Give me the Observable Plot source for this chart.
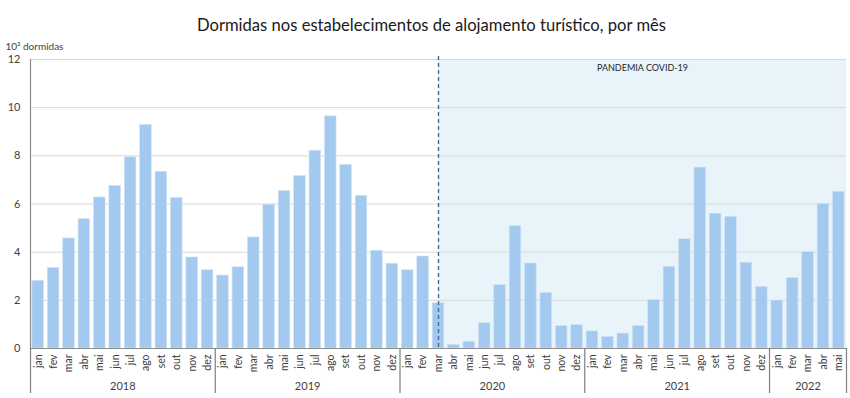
<!DOCTYPE html>
<html><head><meta charset="utf-8">
<script src="https://cdn.jsdelivr.net/npm/d3@7"></script>
<script src="https://cdn.jsdelivr.net/npm/@observablehq/plot@0.6"></script>
<style>body{margin:0;background:#fff;} svg{display:block;}</style>
</head><body><div id="chart"></div>
<script>
const title = "Dormidas nos estabelecimentos de alojamento turístico, por mês";
const unitLabel = "10³ dormidas";
const pandemicLabel = "PANDEMIA COVID-19";
const monthNames = ["jan","fev","mar","abr","mai","jun","jul","ago","set","out","nov","dez"];
const years = ["2018", "2019", "2020", "2021", "2022"];
const values2018 = [2.81, 3.34, 4.57, 5.37, 6.27, 6.75, 7.94, 9.28, 7.34, 6.25, 3.78, 3.25];
const values2019 = [3.03, 3.37, 4.61, 5.97, 6.54, 7.16, 8.21, 9.64, 7.62, 6.34, 4.06, 3.52];
const values2020 = [3.25, 3.82, 1.88, 0.15, 0.28, 1.05, 2.63, 5.08, 3.53, 2.30, 0.93, 0.97];
const values2021 = [0.71, 0.48, 0.62, 0.93, 2.01, 3.39, 4.54, 7.51, 5.60, 5.47, 3.56, 2.56];
const values2022 = [1.99, 2.92, 4.00, 6.00, 6.51];
const yearValues = [values2018, values2019, values2020, values2021, values2022];
const pandemicStart = {year: "2020", month: "mar"};
const yTicks = [0, 2, 4, 6, 8, 10, 12];

const data = [];
years.forEach((yr, k) => yearValues[k].forEach((v, m) => data.push({i: data.length, year: yr, month: monthNames[m], value: v})));
const n = data.length;
const pIdx = data.find(d => d.year === pandemicStart.year && d.month === pandemicStart.month).i;
const yearBounds = [];
const yearCenters = [];
years.forEach(yr => {
  const rows = data.filter(d => d.year === yr);
  yearBounds.push(rows[0].i);
  yearCenters.push({c: (rows[0].i + rows[rows.length - 1].i + 1) / 2, year: yr});
});
yearBounds.push(n);

const font = "Lato, 'Open Sans', sans-serif";
const barColor = "#a3caee";

const chart = Plot.plot({
  width: 850, height: 398,
  marginLeft: 30, marginRight: 4, marginTop: 59, marginBottom: 50,
  style: {fontFamily: font, color: "#404040", background: "#fff"},
  x: {domain: [0, n], axis: null},
  y: {domain: [0, 12], axis: null},
  marks: [
    Plot.rect([{a: pIdx + 0.5, b: n}], {x1: "a", x2: "b", y1: 0, y2: 12, fill: "#e8f4f9"}),
    Plot.gridY(yTicks.filter(t => t > 0), {stroke: "#d9d9d9", strokeOpacity: 1}),
    Plot.rectY(data, {x1: d => d.i, x2: d => d.i + 1, y: "value", insetLeft: 1.9, insetRight: 1.9, fill: barColor, stroke: "#cfe3f6", strokeWidth: 0.6}),
    Plot.ruleX([pIdx + 0.5], {stroke: "#4a6d8f", strokeWidth: 1.4, strokeDasharray: "4,3", insetTop: -3}),
    Plot.ruleY([0], {stroke: "#8c8c8c"}),
    Plot.ruleX([0], {y1: 0, y2: 12, stroke: "#8c8c8c", strokeWidth: 1.2}),
    Plot.ruleX(yearBounds, {y1: 0, y2: 0, insetBottom: -45, stroke: "#7f7f7f", strokeWidth: 1.2}),
    Plot.axisY(yTicks, {tickSize: 0, tickPadding: 10, fontSize: 11, label: null, fill: "#404040"}),
    Plot.axisX(data.map(d => d.i + 0.5), {tickSize: 0, tickPadding: 6, tickRotate: -90, fontSize: 10.5, label: null, tickFormat: t => data[Math.floor(t)].month, fill: "#404040"}),
    Plot.axisX(yearCenters.map(d => d.c), {tickSize: 0, tickPadding: 34, fontSize: 11, label: null, tickFormat: t => yearCenters.find(d => d.c === t).year, fill: "#404040"}),
    Plot.text([title], {frameAnchor: "top", dx: -7, dy: -40, fontSize: 16.6, fill: "#1a1a1a"}),
    Plot.text([unitLabel], {frameAnchor: "top-left", dx: -25, dy: -17, textAnchor: "start", fontSize: 10, fill: "#404040"}),
    Plot.text([pandemicLabel], {x: (pIdx + 0.5 + n) / 2, y: 12, dy: 9, fontSize: 9, fill: "#262626"})
  ]
});
document.getElementById("chart").appendChild(chart);
</script>
</body></html>
